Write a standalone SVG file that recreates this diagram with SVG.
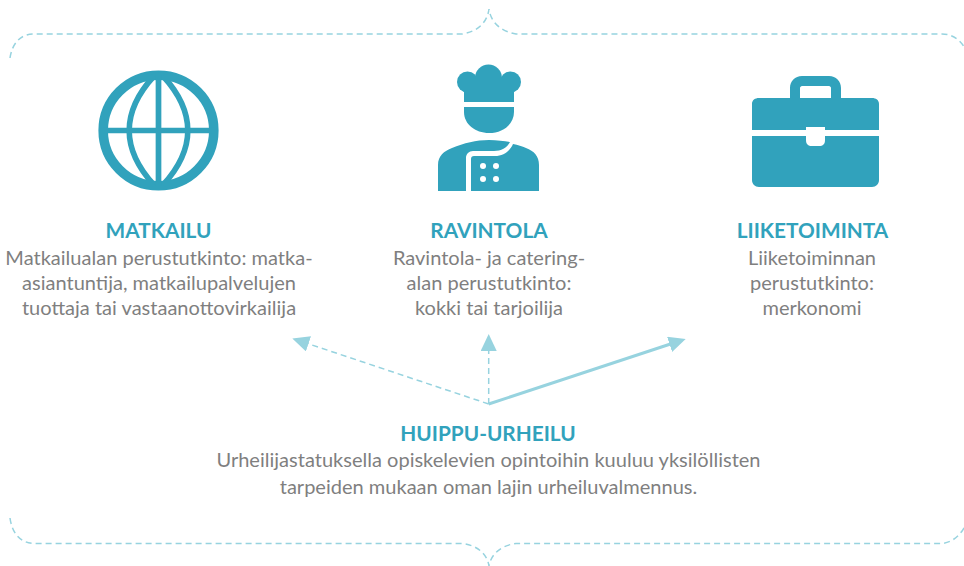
<svg xmlns="http://www.w3.org/2000/svg" width="964" height="566" viewBox="0 0 964 566">
<style>
text{font-family:"Lato","Open Sans","Liberation Sans",sans-serif;text-anchor:middle}
.h{font-size:20.8px;font-weight:700;fill:#31A2BC}
.b{font-size:20.05px;fill:#7F7F7F}
.i{fill:#31A2BC}
.w{fill:#fff}
.brace{fill:none;stroke:#97D3DF;stroke-width:1.5;stroke-dasharray:6 4}
.dash{fill:none;stroke:#97D3DF;stroke-width:1.5;stroke-dasharray:6 4}
.solid{fill:none;stroke:#97D3DF;stroke-width:3}
</style>
<defs>
<marker id="a" markerUnits="userSpaceOnUse" markerWidth="20" markerHeight="18" refX="1" refY="8" orient="auto" viewBox="0 0 20 18"><path d="M0 0L17 8L0 16Z" fill="#97D3DF"/></marker>
</defs>
<g id="frame">
<path class="brace" d="M10 58C12 44 20 34 34 34H462C476 32 487 24 489 9C491 24 503 32 516 34H942C955 34 966 44 968 58"/>
<path class="brace" d="M10 518C12 533 20 543 34 543.5H462C476 545 487 553 489 566C491 553 503 545 516 543.5H940C953 543.5 964 533 968 518"/>
</g>
<g id="connectors">
<path class="dash" d="M488.7 404L307.5 343.5" marker-end="url(#a)"/>
<path class="dash" d="M488.7 404V350" marker-end="url(#a)"/>
<path class="solid" d="M488.7 404L670.5 344" marker-end="url(#a)"/>
</g>
<g id="matkailu">
<circle cx="158.5" cy="130.5" r="55.3" fill="none" stroke="#31A2BC" stroke-width="9.6"/>
<path d="M158.5 75V186M103 130.5H214" fill="none" stroke="#31A2BC" stroke-width="5.7"/>
<path d="M154 76C121 112 121 149 154 185M163 76C196 112 196 149 163 185" fill="none" stroke="#31A2BC" stroke-width="5.7"/>
<text class="h" x="158.5" y="238">MATKAILU</text>
<text class="b" x="159" y="265">Matkailualan perustutkinto: matka-</text>
<text class="b" x="159" y="290">asiantuntija, matkailupalvelujen</text>
<text class="b" x="159" y="315">tuottaja tai vastaanottovirkailija</text>
</g>
<g id="ravintola">
<g class="i"><circle cx="467.5" cy="82" r="10.5"/><circle cx="510.5" cy="82" r="10.5"/><circle cx="488.5" cy="78" r="13.5"/><rect x="464" y="80" width="50" height="22"/></g>
<path class="i" d="M464 107H514V112C514 124 503 133 489 133C475 133 464 124 464 112Z"/>
<path class="i" d="M438 191V165C438 156 444 151 452 148C464 143 476 140 489 140C497 140 504 141 510 142C507 148 501 151 494 151H473C469 151 466 154 466 158V191ZM471 191V159C471 157 472 156 474 156H495C503 156 510 151 513 144C518 145 522 146 526 148C534 151 539 156 539 165V191Z"/>
<g class="w"><circle cx="483" cy="166" r="3"/><circle cx="496" cy="166" r="3"/><circle cx="483" cy="179" r="3"/><circle cx="496" cy="179" r="3"/></g>
<text class="h" x="489" y="238">RAVINTOLA</text>
<text class="b" x="489" y="265">Ravintola- ja catering-</text>
<text class="b" x="489" y="290">alan perustutkinto:</text>
<text class="b" x="489" y="315">kokki tai tarjoilija</text>
</g>
<g id="liiketoiminta">
<path class="i" fill-rule="evenodd" d="M790 100V88C790 81 795 76 802 76H829C836 76 841 81 841 88V100H831V88C831 87 830 86 829 86H802C801 86 800 87 800 88V100Z"/>
<path class="i" d="M752 130V104C752 100 755 98 759 98H872C876 98 879 100 879 104V130H825V127H806V130Z"/>
<path class="i" d="M752 136H806V140C806 144 808 146 812 146H819C823 146 825 144 825 140V136H879V180C879 184 876 187 872 187H759C755 187 752 184 752 180Z"/>
<text class="h" x="812.5" y="238">LIIKETOIMINTA</text>
<text class="b" x="812" y="265">Liiketoiminnan</text>
<text class="b" x="812" y="290">perustutkinto:</text>
<text class="b" x="812" y="315">merkonomi</text>
</g>
<g id="huippu-urheilu">
<text class="h" x="488" y="440.5">HUIPPU-URHEILU</text>
<text class="b" x="488.5" y="467">Urheilijastatuksella opiskelevien opintoihin kuuluu yksilöllisten</text>
<text class="b" x="488.5" y="494">tarpeiden mukaan oman lajin urheiluvalmennus.</text>
</g>
</svg>
